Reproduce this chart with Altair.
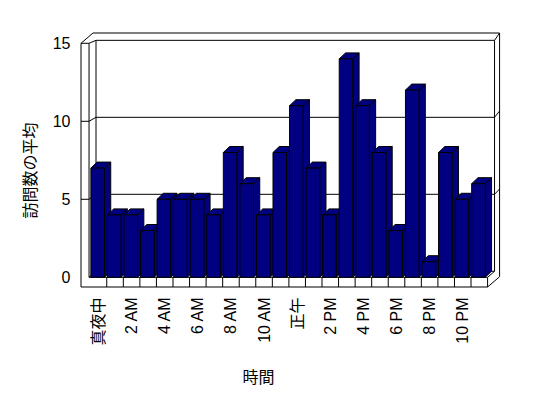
import altair as alt
import pandas as pd

# ---- data ----
hours = ["真夜中", "1 AM", "2 AM", "3 AM", "4 AM", "5 AM", "6 AM", "7 AM",
         "8 AM", "9 AM", "10 AM", "11 AM", "正午", "1 PM", "2 PM", "3 PM",
         "4 PM", "5 PM", "6 PM", "7 PM", "8 PM", "9 PM", "10 PM", "11 PM"]
visits = [7, 4, 4, 3, 5, 5, 5, 4, 8, 6, 4, 8, 11, 7, 4, 14, 11, 8, 3, 12, 1, 8, 5, 6]
y_ticks = [0, 5, 10, 15]
y_title = "訪問数の平均"
x_title = "時間"

# ---- style / geometry (data units of the x slot index and y value) ----
NAVY = "#000080"
W, H = 419, 254
X_DOM = [-0.556, 24.75]
Y_DOM = [-0.622, 15.66]
BAR_L, BAR_W, BAR_DX, BAR_DY = 0.04, 0.82, 0.38, 0.385
L0, L1 = -0.556, -0.07
R0 = len(hours)
VT = max(y_ticks)
VB = Y_DOM[0]
DS_I, DV_I = 0.42, 0.385
DS_O, DV_O = 0.725, 0.66
BACK_K = 0.987

def back(v):
    return v * BACK_K + DV_I

segs = []
def seg(x1, y1, x2, y2):
    segs.append({"x": x1, "y": y1, "x2": x2, "y2": y2})

VTb = back(VT)
seg(L0 + DS_O, VT + DV_O, R0 + DS_O, VT + DV_O)
seg(R0 + DS_O, VT + DV_O, R0 + DS_O, VB + DV_O)
seg(L0, VT, L0 + DS_O, VT + DV_O)
seg(L0, VT, L0, VB)
seg(L0, VT, L1, VT)
seg(L1, VT, L1, 0)
seg(L1, VT, L1 + DS_I, VTb)
seg(L1 + DS_I, VTb, R0 + DS_I, VTb)
seg(L1 + DS_I, VTb, L1 + DS_I, DV_I)
seg(R0 + DS_I, VTb, R0 + DS_I, DV_I)
seg(R0 + DS_I, VTb, R0 + DS_O, VT + DV_O)
seg(L1, 0, R0, 0)
seg(L0, VB, R0, VB)
seg(R0, 0, R0, VB)
seg(R0, VB, R0 + DS_O, VB + DV_O)
seg(L1 + DS_I, DV_I, R0 + DS_I, DV_I)
seg(R0, 0, R0 + DS_I, DV_I)
seg(L1, 0, L1 + DS_I, DV_I)
for k in range(1, len(hours)):
    seg(k, 0, k, VB)
for g in y_ticks:
    if 0 < g < VT:
        seg(L0, g, L1, g)
        seg(L1, g, L1 + DS_I, back(g))
        seg(L1 + DS_I, back(g), R0 + DS_I, back(g))
        seg(R0 + DS_I, back(g), R0 + DS_O, g + DV_O)
seg_df = pd.DataFrame(segs)

front_rows, top_rows, side_rows = [], [], []
for i, v in enumerate(visits):
    xl = i + BAR_L
    xr = xl + BAR_W
    front_rows.append({"bar": i, "x": xl, "x2": xr, "y": 0, "y2": v})
    top_rows.append({"bar": i, "y": v, "x": xl, "x2": xr})
    top_rows.append({"bar": i, "y": v + BAR_DY, "x": xl + BAR_DX, "x2": xr + BAR_DX})
    side_rows.append({"bar": i, "x": xr, "y": 0, "y2": v})
    side_rows.append({"bar": i, "x": xr + BAR_DX, "y": BAR_DY, "y2": v + BAR_DY})
front_df = pd.DataFrame(front_rows)
top_df = pd.DataFrame(top_rows)
side_df = pd.DataFrame(side_rows)

xs = alt.Scale(domain=X_DOM, nice=False, zero=False)
ys = alt.Scale(domain=Y_DOM, nice=False, zero=False)

label_arr = "[" + ",".join("'" + h + "'" for h in hours) + "]"
x_axis = alt.Axis(
    values=[i + 0.5 for i in range(0, len(hours), 2)],
    labelExpr=label_arr + "[round(datum.value - 0.5)]",
    labelAngle=270, ticks=False, tickSize=0, domain=False, grid=False,
    labelPadding=10, labelFont="Liberation Sans, Noto Sans CJK JP", labelFontSize=16,
    labelColor="black", labelOverlap=False,
    title=x_title, titleFont="Noto Sans CJK JP", titleFontSize=16,
    titleFontWeight="normal", titleColor="black",
    titleX=177, titleY=90, titleAlign="center", titleBaseline="middle",
)
y_axis = alt.Axis(
    values=y_ticks, ticks=False, tickSize=0, domain=False, grid=False,
    labelPadding=11, labelFont="Liberation Sans", labelFontSize=16,
    labelColor="black",
    title=y_title, titleFont="Noto Sans CJK JP", titleFontSize=16,
    titleFontWeight="normal", titleColor="black",
    titleX=-51, titleY=137, titleAlign="center", titleBaseline="middle",
)

frame = alt.Chart(seg_df).mark_rule(color="black", strokeWidth=1).encode(
    x=alt.X("x:Q", scale=xs, axis=x_axis),
    y=alt.Y("y:Q", scale=ys, axis=y_axis),
    x2="x2:Q", y2="y2:Q",
)

sides = alt.Chart(side_df).mark_area(
    orient="vertical", color=NAVY, fill=NAVY, stroke="black", strokeWidth=1
).encode(
    x=alt.X("x:Q", scale=xs, axis=x_axis),
    y=alt.Y("y:Q", scale=ys, axis=y_axis, stack=False),
    y2="y2:Q",
    detail="bar:N",
)

tops = alt.Chart(top_df).mark_area(
    orient="horizontal", color=NAVY, fill=NAVY, stroke="black", strokeWidth=1
).encode(
    y=alt.Y("y:Q", scale=ys, axis=y_axis),
    x=alt.X("x:Q", scale=xs, axis=x_axis, stack=False),
    x2="x2:Q",
    detail="bar:N",
)

fronts = alt.Chart(front_df).mark_rect(
    fill=NAVY, stroke="black", strokeWidth=1
).encode(
    x=alt.X("x:Q", scale=xs, axis=x_axis),
    x2="x2:Q",
    y=alt.Y("y:Q", scale=ys, axis=y_axis),
    y2="y2:Q",
)

chart = alt.layer(frame, sides, tops, fronts).properties(
    width=W, height=H,
    autosize=alt.AutoSizeParams(type="none"),
    padding={"left": 73, "top": 25, "right": 40, "bottom": 103},
    background="white",
).configure_view(strokeWidth=0)

chart.save("out.html", embed_options={"renderer": "svg", "actions": False})
